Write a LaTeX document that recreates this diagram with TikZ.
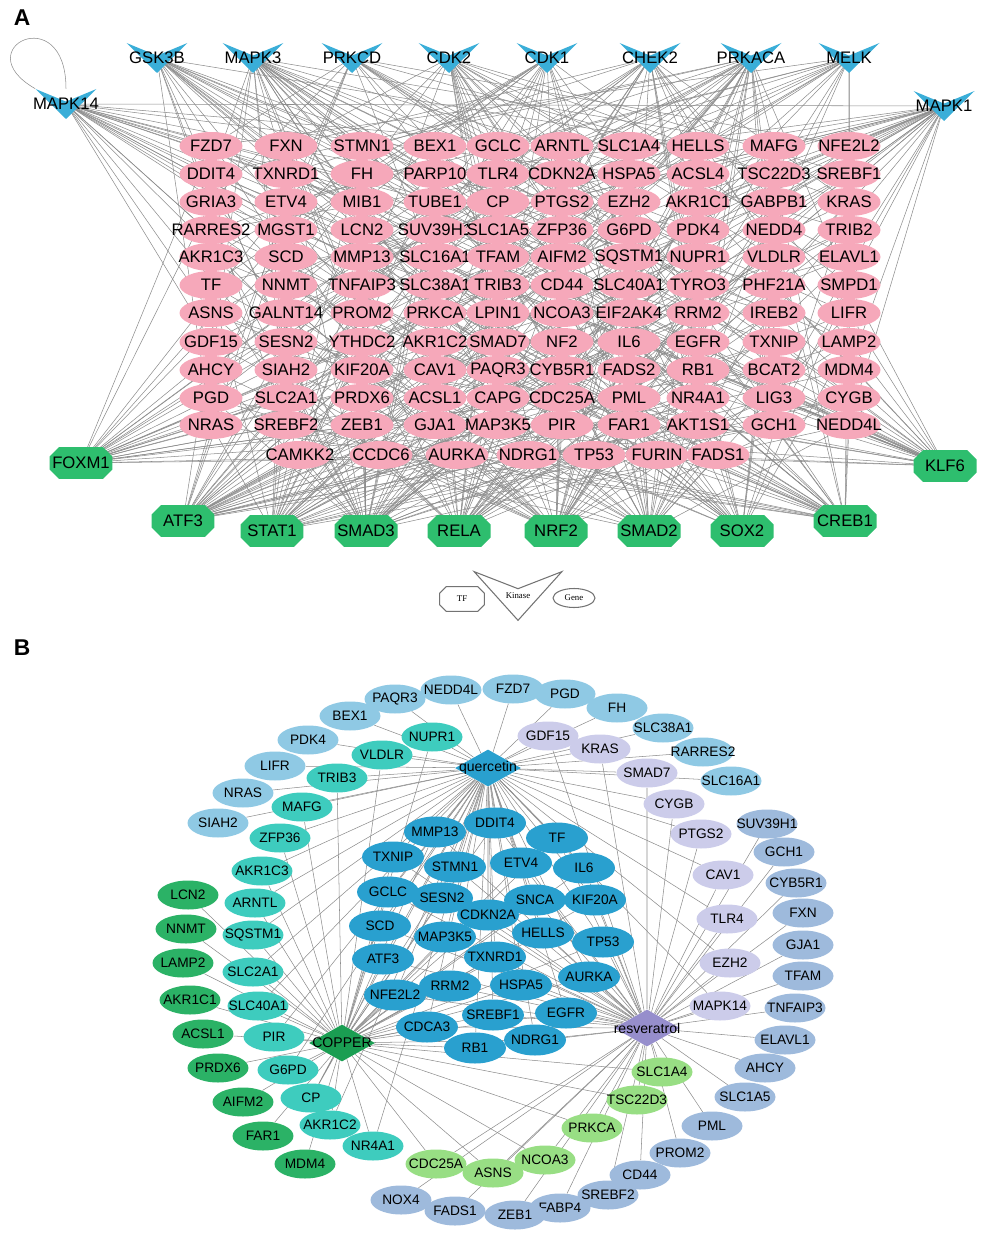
\documentclass[tikz,border=0pt]{standalone}
\usepackage{fontspec}
\setmainfont{Liberation Sans}
\newfontfamily\legendfont{Liberation Serif}
\usetikzlibrary{shapes.geometric, backgrounds, calc}

% colours
\definecolor{genepink}{RGB}{246,168,186}
\definecolor{kinblue}{RGB}{58,174,216}
\definecolor{tfgreen}{RGB}{46,190,110}
\definecolor{edgegray}{RGB}{140,140,140}
\definecolor{ltblue}{RGB}{143,201,228}
\definecolor{stblue}{RGB}{158,186,220}
\definecolor{lavgene}{RGB}{204,204,234}
\definecolor{tealgene}{RGB}{62,204,190}
\definecolor{leafgreen}{RGB}{43,178,102}
\definecolor{mintgreen}{RGB}{152,222,132}
\definecolor{deepblue}{RGB}{41,160,207}
\definecolor{copperhub}{RGB}{26,158,82}
\definecolor{resvhub}{RGB}{150,142,204}

% label that does not widen its shape
\newcommand\lbl[1]{\makebox[0pt]{#1}}

% one row of the gene grid in panel A: row index, y, names
\newcommand\generow[3]{%
  \foreach \name [count=\c] in {#3} {%
    \pgfmathsetmacro\gx{{211,286,362,435,498,562,629,698,774,849}[\c-1]}%
    \node[gene] (g#1-\c) at (\gx,#2) {\lbl{\name}};%
  }%
}

\begin{document}
\begin{tikzpicture}[
    x=0.02cm, y=-0.02cm,
    % Define styles
    gene/.style={
        ellipse,
        fill=genepink,
        inner sep=0pt,
        minimum width=1.26cm,
        minimum height=0.56cm,
        font=\fontsize{9.5}{11}\selectfont
    },
    kinase/.style={
        rectangle,
        inner sep=0pt,
        minimum width=1.22cm,
        minimum height=0.6cm,
        font=\fontsize{9.5}{11}\selectfont,
        path picture={
            \fill[kinblue] (path picture bounding box.north west)
                -- ($(path picture bounding box.north)!0.42!(path picture bounding box.south)$)
                -- (path picture bounding box.north east)
                -- (path picture bounding box.south) -- cycle;
        }
    },
    tf/.style={
        rectangle,
        inner sep=0pt,
        minimum width=1.26cm,
        minimum height=0.64cm,
        font=\fontsize{9.5}{11}\selectfont,
        path picture={
            \fill[tfgreen] ([xshift=0.19cm]path picture bounding box.north west)
                -- ([xshift=-0.19cm]path picture bounding box.north east)
                -- ([yshift=-0.19cm]path picture bounding box.north east)
                -- ([yshift=0.19cm]path picture bounding box.south east)
                -- ([xshift=-0.19cm]path picture bounding box.south east)
                -- ([xshift=0.19cm]path picture bounding box.south west)
                -- ([yshift=0.19cm]path picture bounding box.south west)
                -- ([yshift=-0.19cm]path picture bounding box.north west) -- cycle;
        }
    },
    edge/.style={
        draw=edgegray,
        line width=0.3pt
    },
    legline/.style={
        draw=black!55,
        line width=0.6pt
    },
    legtext/.style={
        font=\legendfont\fontsize{5}{6}\selectfont
    },
    panellabel/.style={
        font=\fontsize{13}{15}\selectfont\bfseries
    },
    bgene/.style={
        ellipse,
        fill=#1,
        inner sep=0pt,
        minimum width=1.22cm,
        minimum height=0.58cm,
        font=\fontsize{7.8}{9}\selectfont
    },
    hub/.style={
        diamond,
        fill=#1,
        inner sep=0pt,
        minimum width=1.32cm,
        minimum height=0.74cm,
        font=\fontsize{8}{9}\selectfont
    }
]
\useasboundingbox (0,0) rectangle (989,1239);

% ============================================================
% Panel A: kinases, TFs and genes
% ============================================================
\node[panellabel] (labA) at (22,18) {A};

% Kinases (top)
\foreach \nm/\lab/\x/\y [count=\i from 0] in {
    gsk3b/GSK3B/157/58, mapk3/MAPK3/253/58, prkcd/PRKCD/352/58,
    cdk2/CDK2/449/58, cdk1/CDK1/547/58, chek2/CHEK2/650/58,
    prkaca/PRKACA/751/58, melk/MELK/849/58, mapk14/MAPK14/66/104,
    mapk1/MAPK1/944/106}
    \node[kinase, alias=h\i] (\nm) at (\x,\y) {\lbl{\lab}};

% Transcription factors (bottom)
\foreach \nm/\lab/\x/\y [count=\i from 10] in {
    foxm1/FOXM1/81/463, atf3/ATF3/183/521, stat1/STAT1/272/531,
    smad3/SMAD3/366/531, rela/RELA/459/531, nrf2/NRF2/556/531,
    smad2/SMAD2/649/531, sox2/SOX2/742/531, creb1/CREB1/845/521,
    klf6/KLF6/945/466}
    \node[tf, alias=h\i] (\nm) at (\x,\y) {\lbl{\lab}};

% Gene grid
\generow{1}{146}{FZD7,FXN,STMN1,BEX1,GCLC,ARNTL,SLC1A4,HELLS,MAFG,NFE2L2}
\generow{2}{174}{DDIT4,TXNRD1,FH,PARP10,TLR4,CDKN2A,HSPA5,ACSL4,TSC22D3,SREBF1}
\generow{3}{202}{GRIA3,ETV4,MIB1,TUBE1,CP,PTGS2,EZH2,AKR1C1,GABPB1,KRAS}
\generow{4}{230}{RARRES2,MGST1,LCN2,SUV39H1,SLC1A5,ZFP36,G6PD,PDK4,NEDD4,TRIB2}
\generow{5}{257}{AKR1C3,SCD,MMP13,SLC16A1,TFAM,AIFM2,SQSTM1,NUPR1,VLDLR,ELAVL1}
\generow{6}{285}{TF,NNMT,TNFAIP3,SLC38A1,TRIB3,CD44,SLC40A1,TYRO3,PHF21A,SMPD1}
\generow{7}{313}{ASNS,GALNT14,PROM2,PRKCA,LPIN1,NCOA3,EIF2AK4,RRM2,IREB2,LIFR}
\generow{8}{342}{GDF15,SESN2,YTHDC2,AKR1C2,SMAD7,NF2,IL6,EGFR,TXNIP,LAMP2}
\generow{9}{370}{AHCY,SIAH2,KIF20A,CAV1,PAQR3,CYB5R1,FADS2,RB1,BCAT2,MDM4}
\generow{10}{398}{PGD,SLC2A1,PRDX6,ACSL1,CAPG,CDC25A,PML,NR4A1,LIG3,CYGB}
\generow{11}{425}{NRAS,SREBF2,ZEB1,GJA1,MAP3K5,PIR,FAR1,AKT1S1,GCH1,NEDD4L}
\foreach \name/\x [count=\c] in {CAMKK2/300, CCDC6/381, AURKA/457, NDRG1/528,
    TP53/594, FURIN/657, FADS1/718}
    \node[gene] (g12-\c) at (\x,455) {\lbl{\name}};

% Regulatory edges (behind the nodes)
\begin{pgfonlayer}{background}
    \pgfmathsetseed{7}
    \foreach \r in {1,...,12} {
        \ifnum\r=12 \def\ncol{7}\else\def\ncol{10}\fi
        \foreach \c in {1,...,\ncol} {
            \pgfmathrandominteger{\ka}{0}{9}
            \pgfmathrandominteger{\kb}{0}{9}
            \pgfmathrandominteger{\ta}{10}{19}
            \pgfmathrandominteger{\tb}{10}{19}
            \pgfmathrandominteger{\tc}{10}{19}
            \draw[edge] (h\ka.center) -- (g\r-\c) (h\kb.center) -- (g\r-\c)
                (h\ta.center) -- (g\r-\c) (h\tb.center) -- (g\r-\c)
                (h\tc.center) -- (g\r-\c);
        }
    }
    \draw[edge] (mapk14.center) -- (mapk1.center);
    \draw[edge] (mapk14.north) .. controls +(0,-90) and +(-70,-40) .. (mapk14.north west);
\end{pgfonlayer}

% Legend
\node[legtext, inner sep=0pt, minimum width=0.88cm, minimum height=0.48cm] (legtf) at (462,599) {TF};
\draw[legline] ([xshift=0.13cm]legtf.north west) -- ([xshift=-0.13cm]legtf.north east)
    -- ([yshift=-0.13cm]legtf.north east) -- ([yshift=0.13cm]legtf.south east)
    -- ([xshift=-0.13cm]legtf.south east) -- ([xshift=0.13cm]legtf.south west)
    -- ([yshift=0.13cm]legtf.south west) -- ([yshift=-0.13cm]legtf.north west) -- cycle;
\node[legtext, inner sep=0pt, minimum width=1.74cm, minimum height=0.96cm] (legkin) at (518,596) {Kinase};
\draw[legline] (legkin.north west) -- ($(legkin.north)!0.35!(legkin.south)$)
    -- (legkin.north east) -- (legkin.south) -- cycle;
\node[ellipse, legline, legtext, minimum width=0.84cm, minimum height=0.38cm,
    inner sep=0pt] (leggene) at (574,598) {Gene};

% ============================================================
% Panel B: three compounds and their targets
% ============================================================
\node[panellabel] (labB) at (22,648) {B};

\node[hub=deepblue] (quercetin) at (488,768) {\lbl{quercetin}};
\node[hub=copperhub] (copper) at (342,1043) {\lbl{COPPER}};
\node[hub=resvhub] (resveratrol) at (647,1028) {\lbl{resveratrol}};

% quercetin only
\foreach \g/\x/\y in {NEDD4L/451/690, FZD7/513/689, PGD/565/694, FH/617/708,
    SLC38A1/663/728, RARRES2/703/752, SLC16A1/731/781, PAQR3/395/699,
    BEX1/350/716, PDK4/308/740, LIFR/275/766, NRAS/243/793, SIAH2/218/823} {
    \node[bgene=ltblue] (b-\g) at (\x,\y) {\lbl{\g}};
    \begin{pgfonlayer}{background}
        \draw[edge] (quercetin) -- (b-\g);
    \end{pgfonlayer}
}

% resveratrol only
\foreach \g/\x/\y in {SUV39H1/767/824, GCH1/784/852, CYB5R1/796/883, FXN/803/913,
    GJA1/803/945, TFAM/803/976, TNFAIP3/795/1008, ELAVL1/785/1040,
    AHCY/765/1068, SLC1A5/745/1097, PML/712/1126, PROM2/680/1153,
    CD44/640/1175, SREBF2/608/1195, FABP4/560/1208, ZEB1/515/1215,
    FADS1/455/1211, NOX4/401/1200} {
    \node[bgene=stblue] (b-\g) at (\x,\y) {\lbl{\g}};
    \begin{pgfonlayer}{background}
        \draw[edge] (resveratrol) -- (b-\g);
    \end{pgfonlayer}
}

% COPPER only
\foreach \g/\x/\y in {LCN2/188/895, NNMT/186/929, LAMP2/183/963, AKR1C1/190/1000,
    ACSL1/203/1034, PRDX6/218/1068, AIFM2/243/1102, FAR1/263/1136, MDM4/305/1164} {
    \node[bgene=leafgreen] (b-\g) at (\x,\y) {\lbl{\g}};
    \begin{pgfonlayer}{background}
        \draw[edge] (copper) -- (b-\g);
    \end{pgfonlayer}
}

% quercetin + resveratrol
\foreach \g/\x/\y in {GDF15/548/736, KRAS/600/749, SMAD7/647/773, CYGB/674/804,
    PTGS2/701/834, CAV1/723/875, TLR4/727/919, EZH2/730/963, MAPK14/720/1006} {
    \node[bgene=lavgene] (b-\g) at (\x,\y) {\lbl{\g}};
    \begin{pgfonlayer}{background}
        \draw[edge] (quercetin) -- (b-\g) (resveratrol) -- (b-\g);
    \end{pgfonlayer}
}

% quercetin + COPPER
\foreach \g/\x/\y in {NUPR1/432/737, VLDLR/382/755, TRIB3/337/778, MAFG/302/807,
    ZFP36/280/838, AKR1C3/262/871, ARNTL/255/903, SQSTM1/253/935,
    SLC2A1/253/972, SLC40A1/258/1006, PIR/274/1037, G6PD/288/1070,
    CP/311/1098, AKR1C2/330/1125, NR4A1/373/1146} {
    \node[bgene=tealgene] (b-\g) at (\x,\y) {\lbl{\g}};
    \begin{pgfonlayer}{background}
        \draw[edge] (quercetin) -- (b-\g) (copper) -- (b-\g);
    \end{pgfonlayer}
}

% COPPER + resveratrol
\foreach \g/\x/\y in {SLC1A4/662/1072, TSC22D3/637/1100, PRKCA/592/1128,
    NCOA3/545/1160, ASNS/493/1173, CDC25A/436/1164} {
    \node[bgene=mintgreen] (b-\g) at (\x,\y) {\lbl{\g}};
    \begin{pgfonlayer}{background}
        \draw[edge] (copper) -- (b-\g) (resveratrol) -- (b-\g);
    \end{pgfonlayer}
}

% all three compounds
\foreach \g/\x/\y in {DDIT4/495/823, MMP13/435/832, TF/557/838, TXNIP/393/857,
    STMN1/455/867, ETV4/521/863, IL6/584/868, GCLC/388/892, SESN2/442/898,
    SNCA/535/900, KIF20A/595/900, CDKN2A/488/915, SCD/380/926,
    MAP3K5/445/937, HELLS/543/933, TP53/603/942, ATF3/383/959,
    TXNRD1/495/957, RRM2/450/986, HSPA5/521/985, AURKA/589/977,
    NFE2L2/395/995, SREBF1/493/1015, EGFR/566/1013, CDCA3/427/1027,
    RB1/475/1048, NDRG1/535/1040} {
    \node[bgene=deepblue, minimum width=1.24cm, minimum height=0.62cm] (b-\g) at (\x,\y) {\lbl{\g}};
    \begin{pgfonlayer}{background}
        \draw[edge] (quercetin) -- (b-\g) (copper) -- (b-\g) (resveratrol) -- (b-\g);
    \end{pgfonlayer}
}

\end{tikzpicture}
\end{document}
